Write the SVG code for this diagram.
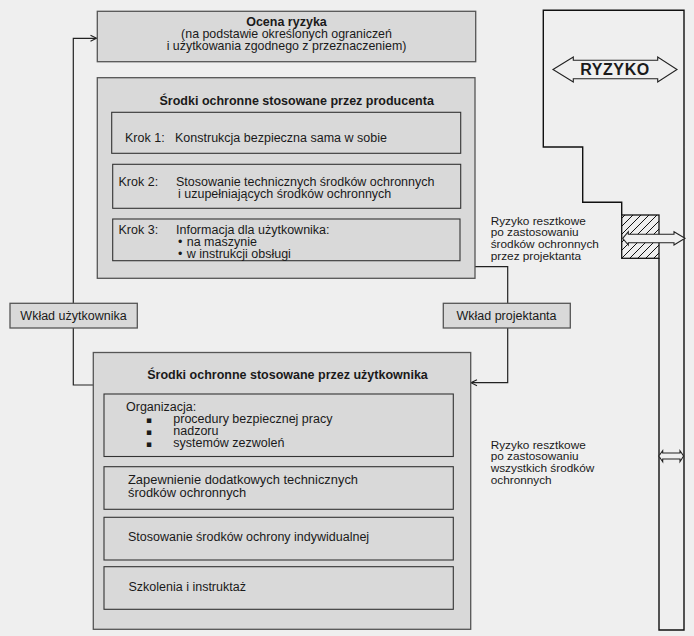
<svg xmlns="http://www.w3.org/2000/svg" width="694" height="636" viewBox="0 0 694 636">
<style>
text{font-family:"Liberation Sans",Arial,sans-serif;fill:#1a1a1a}
.t{font-size:12.5px}
.b{font-size:12.5px;font-weight:bold}
.s{font-size:12.4px}
.r{font-size:11.8px}
.outer{fill:#d9d9d9;stroke:#555;stroke-width:1.3}
.inner{fill:#d9d9d9;stroke:#333;stroke-width:1.1}
.ln{fill:none;stroke:#222;stroke-width:1.2}
.blk{fill:none;stroke:#111;stroke-width:1.4}
.arr{fill:#efefef;stroke:#222;stroke-width:1.1}
.bul{font-family:"DejaVu Sans",sans-serif;font-size:9px}
</style>
<defs>
<marker id="ah" markerWidth="8" markerHeight="8" refX="7" refY="4" orient="auto" markerUnits="userSpaceOnUse">
<path d="M1,1 L7,4 L1,7" fill="none" stroke="#222" stroke-width="1.1"/>
</marker>
<pattern id="hatch" patternUnits="userSpaceOnUse" width="8" height="8">
<path d="M-1,1 L1,-1 M0,8 L8,0 M7,9 L9,7" stroke="#111" stroke-width="1"/>
</pattern>
</defs>
<rect x="0" y="0" width="694" height="636" fill="#efefef"/>

<g id="connectors">
<path class="ln" d="M93.3,385 H73.3 V328"/>
<path class="ln" d="M73.3,303.3 V38.3 H96.5" marker-end="url(#ah)"/>
<path class="ln" d="M475,266.7 H507.7 V303.3"/>
<path class="ln" d="M507.7,328 V382.7 H471" marker-end="url(#ah)"/>
</g>

<g id="ocena">
<rect class="outer" x="97.3" y="11.3" width="378.4" height="50.4"/>
<text class="b" x="286.5" y="26" text-anchor="middle">Ocena ryzyka</text>
<text class="s" x="286.5" y="38" text-anchor="middle">(na podstawie określonych ograniczeń</text>
<text class="s" x="286.5" y="49.5" text-anchor="middle">i użytkowania zgodnego z przeznaczeniem)</text>
</g>

<g id="producent">
<rect class="outer" x="97.3" y="77.7" width="377.7" height="200.6"/>
<text class="b" x="296.7" y="105" text-anchor="middle">Środki ochronne stosowane przez producenta</text>
<rect class="inner" x="111.7" y="112.3" width="349" height="41"/>
<text class="t" x="125" y="142.3">Krok 1:</text>
<text class="t" x="175" y="142.3">Konstrukcja bezpieczna sama w sobie</text>
<rect class="inner" x="112.7" y="164.3" width="348" height="44"/>
<text class="t" x="118.5" y="186">Krok 2:</text>
<text class="t" x="176" y="186">Stosowanie technicznych środków ochronnych</text>
<text class="t" x="178" y="197.7">i uzupełniających środków ochronnych</text>
<rect class="inner" x="112.7" y="219" width="347.3" height="41.7"/>
<text class="t" x="118.5" y="233.5">Krok 3:</text>
<text class="t" x="176" y="233.5">Informacja dla użytkownika:</text>
<text class="t" x="178" y="246">•</text>
<text class="t" x="186.7" y="246">na maszynie</text>
<text class="t" x="178" y="258">•</text>
<text class="t" x="186.7" y="258">w instrukcji obsługi</text>
</g>

<g id="wklad-uzytkownika">
<rect class="outer" x="10" y="303.3" width="127.3" height="24.7"/>
<text class="t" x="73.5" y="319.5" text-anchor="middle">Wkład użytkownika</text>
</g>

<g id="wklad-projektanta">
<rect class="outer" x="443.3" y="303.3" width="127" height="24.7"/>
<text class="t" x="506.5" y="319.5" text-anchor="middle">Wkład projektanta</text>
</g>

<g id="uzytkownik">
<rect class="outer" x="93.3" y="352.5" width="377.4" height="276.8"/>
<text class="b" x="287.5" y="378.5" text-anchor="middle">Środki ochronne stosowane przez użytkownika</text>
<rect class="inner" x="104" y="394" width="349.3" height="62.5"/>
<text class="t" x="126" y="410.5">Organizacja:</text>
<text class="bul" x="146" y="422.5">▪</text>
<text class="t" x="173.3" y="423">procedury bezpiecznej pracy</text>
<text class="bul" x="146" y="434.5">▪</text>
<text class="t" x="173.3" y="435">nadzoru</text>
<text class="bul" x="146" y="446.5">▪</text>
<text class="t" x="173.3" y="447">systemów zezwoleń</text>
<rect class="inner" x="104" y="466.7" width="349.3" height="42.6"/>
<text class="t" x="128" y="483.5" style="font-size:12.9px">Zapewnienie dodatkowych technicznych</text>
<text class="t" x="128" y="496.7" style="font-size:12.9px">środków ochronnych</text>
<rect class="inner" x="104" y="517.3" width="349.3" height="42.7"/>
<text class="t" x="128" y="540.5">Stosowanie środków ochrony indywidualnej</text>
<rect class="inner" x="104" y="566.7" width="349.3" height="42.6"/>
<text class="t" x="128.5" y="590.5">Szkolenia i instruktaż</text>
</g>

<g id="ryzyko">
<path class="blk" d="M659,258.3 V630 H684 V10.3 H543.3 V147 H582.7 V202.3 H621.7 V215"/>
<rect x="621.7" y="215" width="37.3" height="43.3" fill="url(#hatch)" stroke="#111" stroke-width="1.3"/>
<path class="arr" d="M553,69.5 L573.3,57 V60.3 H657.7 V57 L677,69.5 L657.7,82 V78.7 H573.3 V82 Z"/>
<text x="615" y="75" text-anchor="middle" style="font-size:16px;font-weight:bold;letter-spacing:0.6px">RYZYKO</text>
<path class="arr" d="M622.7,238.3 L628.3,231.7 V234.3 H674 V231.7 L685,238.3 L674,245 V242.7 H628.3 V245 Z"/>
<path class="arr" d="M658.8,456 L662.7,450.7 V453 H680 V450.7 L683.6,456 L680,461.7 V459 H662.7 V461.7 Z"/>
<text class="r" x="490.7" y="224.5">Ryzyko resztkowe</text>
<text class="r" x="490.7" y="236.2">po zastosowaniu</text>
<text class="r" x="490.7" y="247.9">środków ochronnych</text>
<text class="r" x="490.7" y="259.6">przez projektanta</text>
<text class="r" x="490.7" y="448.5">Ryzyko resztkowe</text>
<text class="r" x="490.7" y="460.2">po zastosowaniu</text>
<text class="r" x="490.7" y="471.9">wszystkich środków</text>
<text class="r" x="490.7" y="483.6">ochronnych</text>
</g>
</svg>
